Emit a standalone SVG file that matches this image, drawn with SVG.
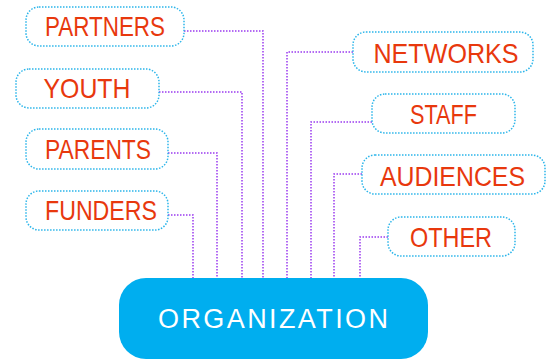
<svg xmlns="http://www.w3.org/2000/svg" width="551" height="360" viewBox="0 0 551 360">
<style>
.box{fill:#fff;stroke:#2bb5ea;stroke-width:1.5;stroke-dasharray:1.5 1.5}
.lbl{font-family:"Liberation Sans",Arial,sans-serif;font-size:28px;fill:#e8380d;text-anchor:middle}
.con{fill:none;stroke:#9a3bf0;stroke-width:1.5;stroke-dasharray:1.5 1.5}
.org{fill:#00aeef}
.orgt{font-family:"Liberation Sans",Arial,sans-serif;font-size:27px;fill:#fff;text-anchor:middle}
</style>
<rect width="551" height="360" fill="#fff"/>
<g id="connectors">
<path class="con" d="M184 31H263V278"/>
<path class="con" d="M159 92H242V278"/>
<path class="con" d="M168 153H217V278"/>
<path class="con" d="M168 215H193V278"/>
<path class="con" d="M353 52H287V278"/>
<path class="con" d="M372 122H311V278"/>
<path class="con" d="M362 174H334V278"/>
<path class="con" d="M388 237H360V278"/>
</g>
<g id="partners"><rect class="box" x="26" y="7" width="158" height="39" rx="13"/><text class="lbl" x="105" y="36" textLength="120" lengthAdjust="spacingAndGlyphs">PARTNERS</text></g>
<g id="youth"><rect class="box" x="16" y="69" width="143" height="39" rx="13"/><text class="lbl" x="87" y="98" textLength="87" lengthAdjust="spacingAndGlyphs">YOUTH</text></g>
<g id="parents"><rect class="box" x="26" y="129" width="142" height="40" rx="13"/><text class="lbl" x="98" y="159" textLength="106" lengthAdjust="spacingAndGlyphs">PARENTS</text></g>
<g id="funders"><rect class="box" x="26" y="191" width="142" height="39" rx="13"/><text class="lbl" x="101" y="220" textLength="112" lengthAdjust="spacingAndGlyphs">FUNDERS</text></g>
<g id="networks"><rect class="box" x="353" y="32" width="180" height="40" rx="13"/><text class="lbl" x="446" y="63" textLength="145" lengthAdjust="spacingAndGlyphs">NETWORKS</text></g>
<g id="staff"><rect class="box" x="372" y="94" width="143" height="39" rx="13"/><text class="lbl" x="443.5" y="124" textLength="67" lengthAdjust="spacingAndGlyphs">STAFF</text></g>
<g id="audiences"><rect class="box" x="362" y="155" width="183" height="39" rx="13"/><text class="lbl" x="452.5" y="186" textLength="145" lengthAdjust="spacingAndGlyphs">AUDIENCES</text></g>
<g id="other"><rect class="box" x="388" y="217" width="127" height="39" rx="13"/><text class="lbl" x="451" y="247" textLength="82" lengthAdjust="spacingAndGlyphs">OTHER</text></g>
<g id="organization"><rect class="org" x="119" y="278" width="309" height="81" rx="27"/><text class="orgt" x="273" y="328" textLength="230" lengthAdjust="spacing">ORGANIZATION</text></g>
</svg>
